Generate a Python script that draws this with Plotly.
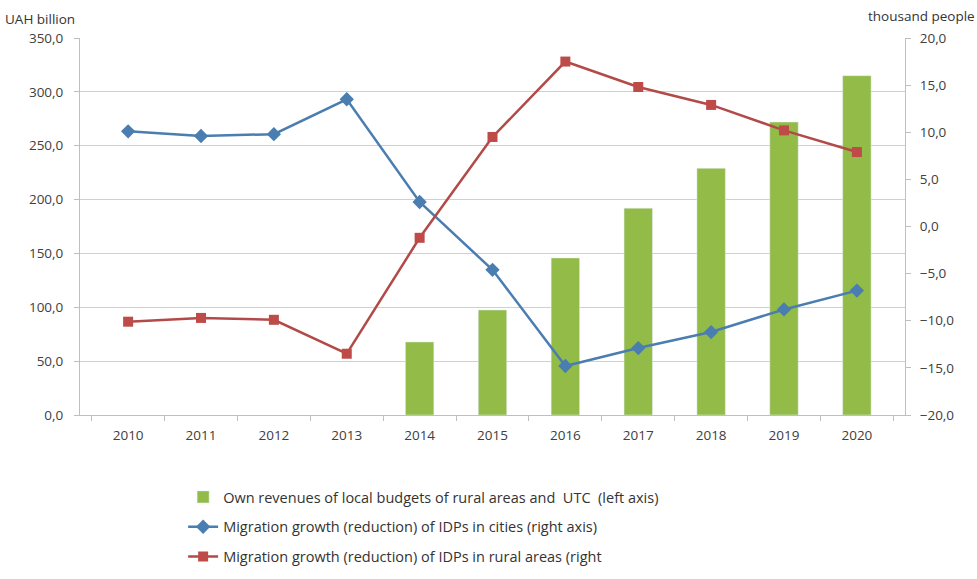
import plotly.graph_objects as go

years = ["2010", "2011", "2012", "2013", "2014", "2015", "2016", "2017", "2018", "2019", "2020"]
revenues = [None, None, None, None, 67.8, 97.5, 145.8, 192.0, 229.0, 272.0, 315.0]
idp_cities = [10.1, 9.6, 9.8, 13.5, 2.6, -4.6, -14.8, -12.9, -11.2, -8.8, -6.8]
idp_rural = [-10.1, -9.7, -9.9, -13.5, -1.2, 9.5, 17.5, 14.8, 12.9, 10.2, 7.9]

name_bar = "Own revenues of local budgets of rural areas and  UTC  (left axis)"
name_city = "Migration growth (reduction) of IDPs in cities (right axis)"
name_rural = "Migration growth (reduction) of IDPs in rural areas (right"

fig = go.Figure()
fig.add_trace(go.Bar(x=years, y=revenues, name=name_bar, marker_color="#92BB48",
                     width=0.39, yaxis="y", legendgroup="a"))
fig.add_trace(go.Scatter(x=years, y=idp_cities, name=name_city, yaxis="y2", mode="lines+markers",
                         line=dict(color="#4A7DB0", width=2.5),
                         marker=dict(symbol="diamond", size=11, color="#4A7DB0"), legendgroup="b"))
fig.add_trace(go.Scatter(x=years, y=idp_rural, name=name_rural, yaxis="y2", mode="lines+markers",
                         line=dict(color="#B24A48", width=2.5),
                         marker=dict(symbol="square", size=10, color="#BE4B48"), legendgroup="c"))

FONT = "Open Sans, Liberation Sans, sans-serif"
tickfont = dict(family=FONT, size=13.5, color="#404040")
fig.update_layout(
    width=977, height=579,
    margin=dict(l=80, r=72, t=38, b=164, autoexpand=False),
    paper_bgcolor="white", plot_bgcolor="white",
    separators=", ",
    showlegend=True,
    xaxis=dict(type="category", showline=True, linecolor="#bfbfbf", linewidth=1,
               ticks="outside", tickson="boundaries", ticklen=5, tickcolor="#bfbfbf",
               tickfont=tickfont, showgrid=False, ticklabelstandoff=8),
    yaxis=dict(range=[0, 350], dtick=50, tickformat=".1f", showgrid=True, gridcolor="#d0d0d0",
               gridwidth=1, showline=True, linecolor="#bfbfbf", tickfont=tickfont,
               ticks="outside", ticklen=5, tickcolor="#bfbfbf", zeroline=False,
               ticklabelstandoff=8),
    yaxis2=dict(range=[-20, 20], dtick=5, tickformat=".1f", overlaying="y", side="right",
                showgrid=False, showline=True, linecolor="#bfbfbf", tickfont=tickfont,
                ticks="outside", ticklen=5, tickcolor="#bfbfbf", zeroline=False,
                ticklabelstandoff=6),
    legend=dict(x=0.125, y=-0.175, xanchor="left", yanchor="top", orientation="v",
                font=dict(family=FONT, size=14.5, color="#333333"),
                tracegroupgap=8, traceorder="grouped", bgcolor="rgba(0,0,0,0)"),
    annotations=[
        dict(text="UAH billion", xref="paper", yref="paper", x=-0.093, y=1.02, xanchor="left",
             yanchor="bottom", showarrow=False,
             font=dict(family=FONT, size=13.5, color="#333333")),
        dict(text="thousand people", xref="paper", yref="paper", x=1.087, y=1.028, xanchor="right",
             yanchor="bottom", showarrow=False,
             font=dict(family=FONT, size=13.5, color="#333333")),
    ],
)

fig.write_html("out.html")
